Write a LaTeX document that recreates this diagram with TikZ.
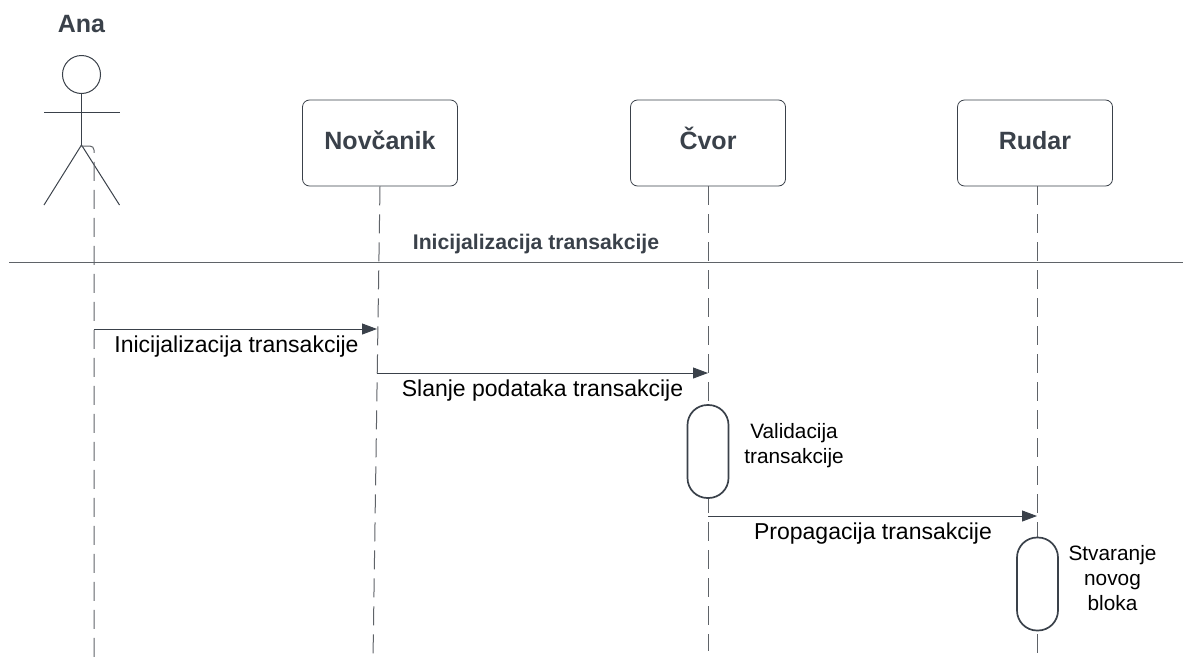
\documentclass[tikz,border=0pt]{standalone}
\usepackage{fontspec}
\setmainfont{Liberation Sans}
\usetikzlibrary{positioning,arrows.meta}
\definecolor{inkdark}{HTML}{3A414A}
\definecolor{linegray}{HTML}{5F6368}
\tikzset{
    lifebox/.style={draw=inkdark,line width=0.8pt,rounded corners=7pt,minimum width=155pt,minimum height=86pt,text=inkdark,text height=17pt,text depth=4pt,font=\fontsize{25}{28}\selectfont\bfseries},
    lifeline/.style={draw=linegray,line width=1pt,dash pattern=on 19pt off 9pt},
    message/.style={draw=inkdark,line width=0.9pt,-{Triangle[length=15pt,width=11pt]}},
    msgtext/.style={font=\fontsize{23}{27}\selectfont,text=black,inner sep=0pt},
    notetext/.style={font=\fontsize{20.8}{25}\selectfont,text=black,align=center,inner sep=0pt},
    activation/.style={draw=inkdark,line width=1.7pt,fill=white,rounded corners=20pt,minimum width=41pt,minimum height=93pt,inner sep=0pt},
    stick/.style={draw=inkdark,line width=1pt}
}
\begin{document}
\begin{tikzpicture}[x=1pt,y=-1pt,on grid]
    \useasboundingbox (0,0) rectangle (1183,659);
    % actor
    \node[text=inkdark,font=\fontsize{25}{28}\selectfont\bfseries] (ana) at (81.5,24) {Ana};
    \node[circle,draw=inkdark,line width=1pt,minimum size=38pt,inner sep=0pt] (head) at (81.5,74.5) {};
    \coordinate (hip) at (81.5,145);
    \coordinate (armL) at (44,112);
    \coordinate (armR) at (119.5,112);
    \coordinate (legL) at (44,205);
    \coordinate (legR) at (119.5,205);
    \draw[stick] (head.south) -- (hip);
    \draw[stick] (armL) -- (armR);
    \draw[stick] (legL) -- (hip) -- (legR);
    % participants
    \node[lifebox] (novcanik) at (380,143) {Novčanik};
    \node[lifebox,right=328pt of novcanik] (cvor) {Čvor};
    \node[lifebox,right=327pt of cvor] (rudar) {Rudar};
    % lifeline ends
    \coordinate (anaEnd) at (94,659);
    \coordinate (novcanikEnd) at (373,659);
    \coordinate (cvorEnd) at (708,651);
    \coordinate (rudarEnd) at (1037,659);
    \coordinate (hook) at (80,146);
    \draw[lifeline,rounded corners=4pt] (hook) -- (94,146) -- (anaEnd);
    \draw[lifeline] (novcanik.south) -- (novcanikEnd);
    \draw[lifeline] (cvor.south) -- (cvorEnd);
    \draw[lifeline] (rudar.south) ++(2,0) -- (rudarEnd);
    % phase divider
    \coordinate (divL) at (9,262);
    \coordinate (divR) at (1183,262);
    \draw[draw=linegray,line width=0.9pt] (divL) -- (divR);
    \node[text=inkdark,font=\fontsize{21.2}{24}\selectfont\bfseries] (phase) at (536,244.5) {Inicijalizacija transakcije};
    % messages
    \coordinate (m1a) at (94,329);
    \coordinate (m1b) at (377,329);
    \coordinate (m2a) at (377,373);
    \coordinate (m2b) at (708,373);
    \coordinate (m3a) at (708,516);
    \coordinate (m3b) at (1037,516);
    \draw[message] (m1a) -- (m1b);
    \draw[message] (m2a) -- (m2b);
    \draw[message] (m3a) -- (m3b);
    \node[msgtext] (m1) at (236.5,346.5) {Inicijalizacija transakcije};
    \node[msgtext] (m2) at (542.5,390.5) {Slanje podataka transakcije};
    \node[msgtext] (m3) at (873,534) {Propagacija transakcije};
    % activations
    \node[activation] (validacija) at (708,451.5) {};
    \node[activation] (stvaranje) at (1037.5,584) {};
    \node[notetext] (validacijaTxt) at (794,446) {Validacija\\transakcije};
    \node[notetext] (stvaranjeTxt) at (1112.5,578.5) {Stvaranje\\novog\\bloka};
\end{tikzpicture}
\end{document}
